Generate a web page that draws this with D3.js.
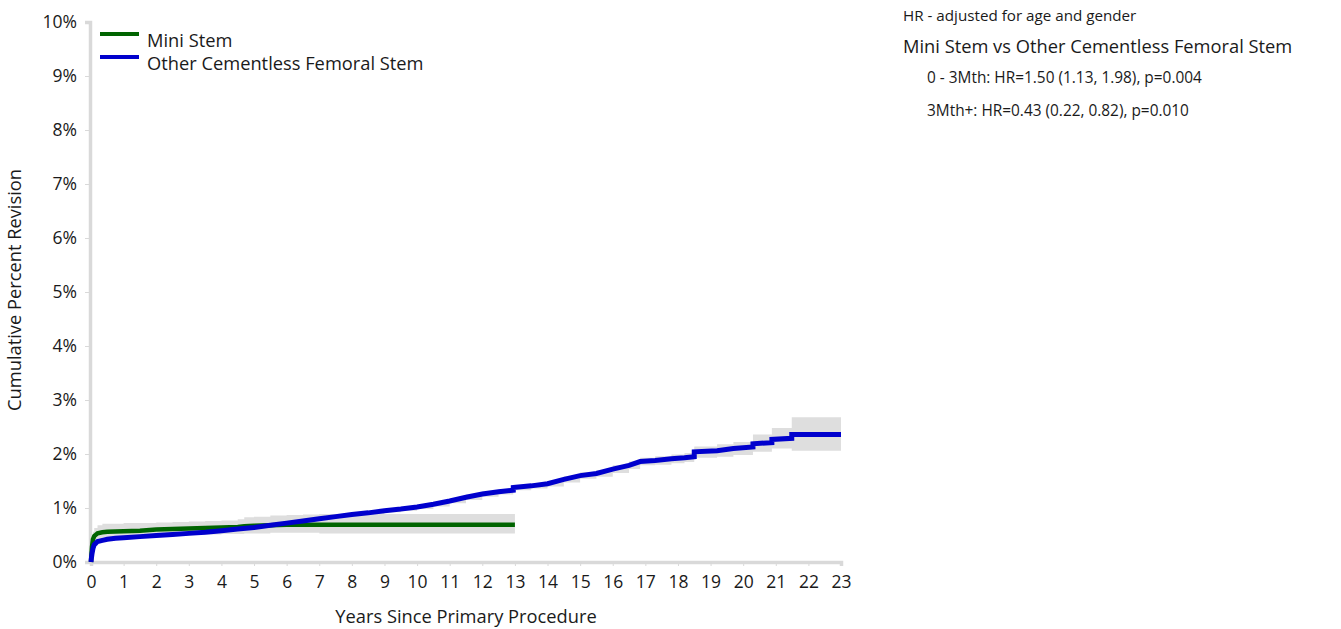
<!DOCTYPE html>
<html><head><meta charset="utf-8">
<script src="https://cdn.jsdelivr.net/npm/d3@7"></script>
<style>body{margin:0;background:#fff}svg{display:block}text{font-family:"Open Sans","Noto Sans",sans-serif;fill:#1a1a1a}</style>
</head><body>
<svg id="c" width="1341" height="629"></svg>
<script>
const xTicks = d3.range(0, 24);
const yTicks = d3.range(0, 11);
const seriesNames = ["Mini Stem", "Other Cementless Femoral Stem"];
const seriesColors = ["#006400", "#0000cd"];

const greenYears = [0, 0.01, 0.03, 0.06, 0.1, 0.2, 0.35, 0.5, 1, 1.5, 2, 2.5, 3, 3.5, 4, 4.5, 4.7, 5, 5.5, 6, 6.5, 7, 13];
const greenVals  = [0, 0.1, 0.28, 0.42, 0.48, 0.53, 0.55, 0.56, 0.57, 0.58, 0.6, 0.61, 0.62, 0.63, 0.64, 0.65, 0.66, 0.67, 0.68, 0.69, 0.69, 0.69, 0.69];
const greenLower = [0, 0.05, 0.18, 0.32, 0.38, 0.43, 0.45, 0.46, 0.47, 0.48, 0.49, 0.5, 0.51, 0.51, 0.52, 0.52, 0.53, 0.53, 0.54, 0.54, 0.54, 0.53, 0.53];
const greenUpper = [0, 0.2, 0.42, 0.56, 0.63, 0.68, 0.71, 0.71, 0.72, 0.72, 0.73, 0.74, 0.75, 0.76, 0.77, 0.79, 0.83, 0.84, 0.86, 0.87, 0.88, 0.89, 0.90];

const blueYears = [0, 0.01, 0.03, 0.06, 0.1, 0.2, 0.35, 0.5, 0.75, 1, 1.5, 2, 2.5, 3, 3.5, 4, 4.5, 5, 5.5, 6, 6.5, 7, 7.5, 8, 8.5, 9, 9.5, 10, 10.5, 11, 11.5, 12, 12.5, 12.95, 12.95, 13.5, 14, 14.5, 15, 15.5, 16, 16.5, 16.84, 17.3, 17.8, 18.2, 18.5, 18.5, 19.2, 19.7, 20.3, 20.3, 20.88, 20.88, 21.49, 21.49, 23];
const blueVals  = [0, 0.06, 0.15, 0.25, 0.32, 0.38, 0.40, 0.42, 0.44, 0.45, 0.47, 0.49, 0.51, 0.53, 0.55, 0.58, 0.61, 0.64, 0.68, 0.72, 0.76, 0.80, 0.84, 0.88, 0.91, 0.95, 0.98, 1.02, 1.07, 1.13, 1.2, 1.26, 1.30, 1.33, 1.38, 1.41, 1.45, 1.53, 1.6, 1.64, 1.72, 1.79, 1.86, 1.88, 1.91, 1.93, 1.95, 2.04, 2.06, 2.10, 2.13, 2.19, 2.21, 2.27, 2.29, 2.36, 2.36];
const blueLower = [0, 0.04, 0.13, 0.23, 0.30, 0.36, 0.38, 0.40, 0.42, 0.43, 0.45, 0.47, 0.49, 0.51, 0.53, 0.56, 0.59, 0.62, 0.65, 0.69, 0.73, 0.77, 0.81, 0.85, 0.88, 0.92, 0.95, 0.98, 1.03, 1.09, 1.15, 1.21, 1.25, 1.28, 1.33, 1.36, 1.40, 1.47, 1.54, 1.58, 1.65, 1.72, 1.79, 1.80, 1.83, 1.85, 1.86, 1.93, 1.95, 1.98, 2.00, 2.04, 2.06, 2.10, 2.06, 2.06, 2.06];
const blueUpper = [0, 0.08, 0.17, 0.27, 0.34, 0.40, 0.42, 0.44, 0.46, 0.47, 0.49, 0.51, 0.53, 0.55, 0.57, 0.60, 0.63, 0.66, 0.71, 0.75, 0.79, 0.83, 0.87, 0.91, 0.94, 0.98, 1.01, 1.06, 1.11, 1.17, 1.25, 1.31, 1.35, 1.38, 1.43, 1.46, 1.50, 1.59, 1.66, 1.70, 1.79, 1.86, 1.93, 1.96, 1.99, 2.02, 2.04, 2.14, 2.18, 2.22, 2.26, 2.36, 2.40, 2.48, 2.52, 2.68, 2.68];

const svg = d3.select("#c");
const x = d3.scaleLinear().domain([0, 23]).range([91, 841]);
const y = d3.scaleLinear().domain([0, 10]).range([562, 22]);

// confidence bands
function band(years, lo, hi) {
  return d3.area().curve(d3.curveStepAfter)
    .x((d, i) => x(years[i])).y0((d, i) => y(lo[i])).y1((d, i) => y(hi[i]))(years);
}
svg.append("path").attr("d", band(greenYears, greenLower, greenUpper)).attr("fill", "#dedede");
svg.append("path").attr("d", band(blueYears, blueLower, blueUpper)).attr("fill", "#dedede");

// axes
const axisColor = "#d9d9d9";
const gx = svg.append("g").attr("transform", "translate(0,562)")
  .call(d3.axisBottom(x).tickValues(xTicks).tickSize(4).tickPadding(10).tickFormat(d3.format("d")));
const gy = svg.append("g").attr("transform", "translate(90,0)")
  .call(d3.axisLeft(y).tickValues(yTicks).tickSize(5).tickPadding(8).tickFormat(d => d + "%"));
[gx, gy].forEach(g => {
  g.select(".domain").attr("stroke", axisColor).attr("stroke-width", 3.5);
  g.selectAll(".tick line").attr("stroke", axisColor).attr("stroke-width", 1);
  g.selectAll(".tick text").attr("font-size", 17.5).attr("font-family", "'Open Sans','Noto Sans',sans-serif").attr("fill", "#1a1a1a");
});

// lines
function line(years, vals) {
  return d3.line().curve(d3.curveLinear).x((d, i) => x(years[i])).y((d, i) => y(vals[i]))(years);
}
svg.append("path").attr("d", line(greenYears, greenVals)).attr("fill", "none").attr("stroke", seriesColors[0]).attr("stroke-width", 4.5);
svg.append("path").attr("d", line(blueYears, blueVals)).attr("fill", "none").attr("stroke", seriesColors[1]).attr("stroke-width", 5);

// axis titles
svg.append("text").attr("x", 466).attr("y", 623).attr("text-anchor", "middle").attr("font-size", 18.3).text("Years Since Primary Procedure");
svg.append("text").attr("transform", "translate(21,290) rotate(-90)").attr("text-anchor", "middle").attr("font-size", 18.3).text("Cumulative Percent Revision");

// legend
seriesNames.forEach((n, i) => {
  const ly = 34 + i * 23;
  svg.append("line").attr("x1", 100).attr("x2", 139).attr("y1", ly).attr("y2", ly).attr("stroke", seriesColors[i]).attr("stroke-width", 4);
  svg.append("text").attr("x", 147).attr("y", ly + 13).attr("font-size", 18.3).text(n);
});

// annotation
const notes = [
  {t: "HR - adjusted for age and gender", x: 903, y: 21, s: 15.2},
  {t: "Mini Stem vs Other Cementless Femoral Stem", x: 903, y: 53, s: 18.3},
  {t: "0 - 3Mth: HR=1.50 (1.13, 1.98), p=0.004", x: 927, y: 83, s: 15.4},
  {t: "3Mth+: HR=0.43 (0.22, 0.82), p=0.010", x: 927, y: 116, s: 15.4}
];
notes.forEach(n => svg.append("text").attr("x", n.x).attr("y", n.y).attr("font-size", n.s).text(n.t));
</script>
</body></html>
